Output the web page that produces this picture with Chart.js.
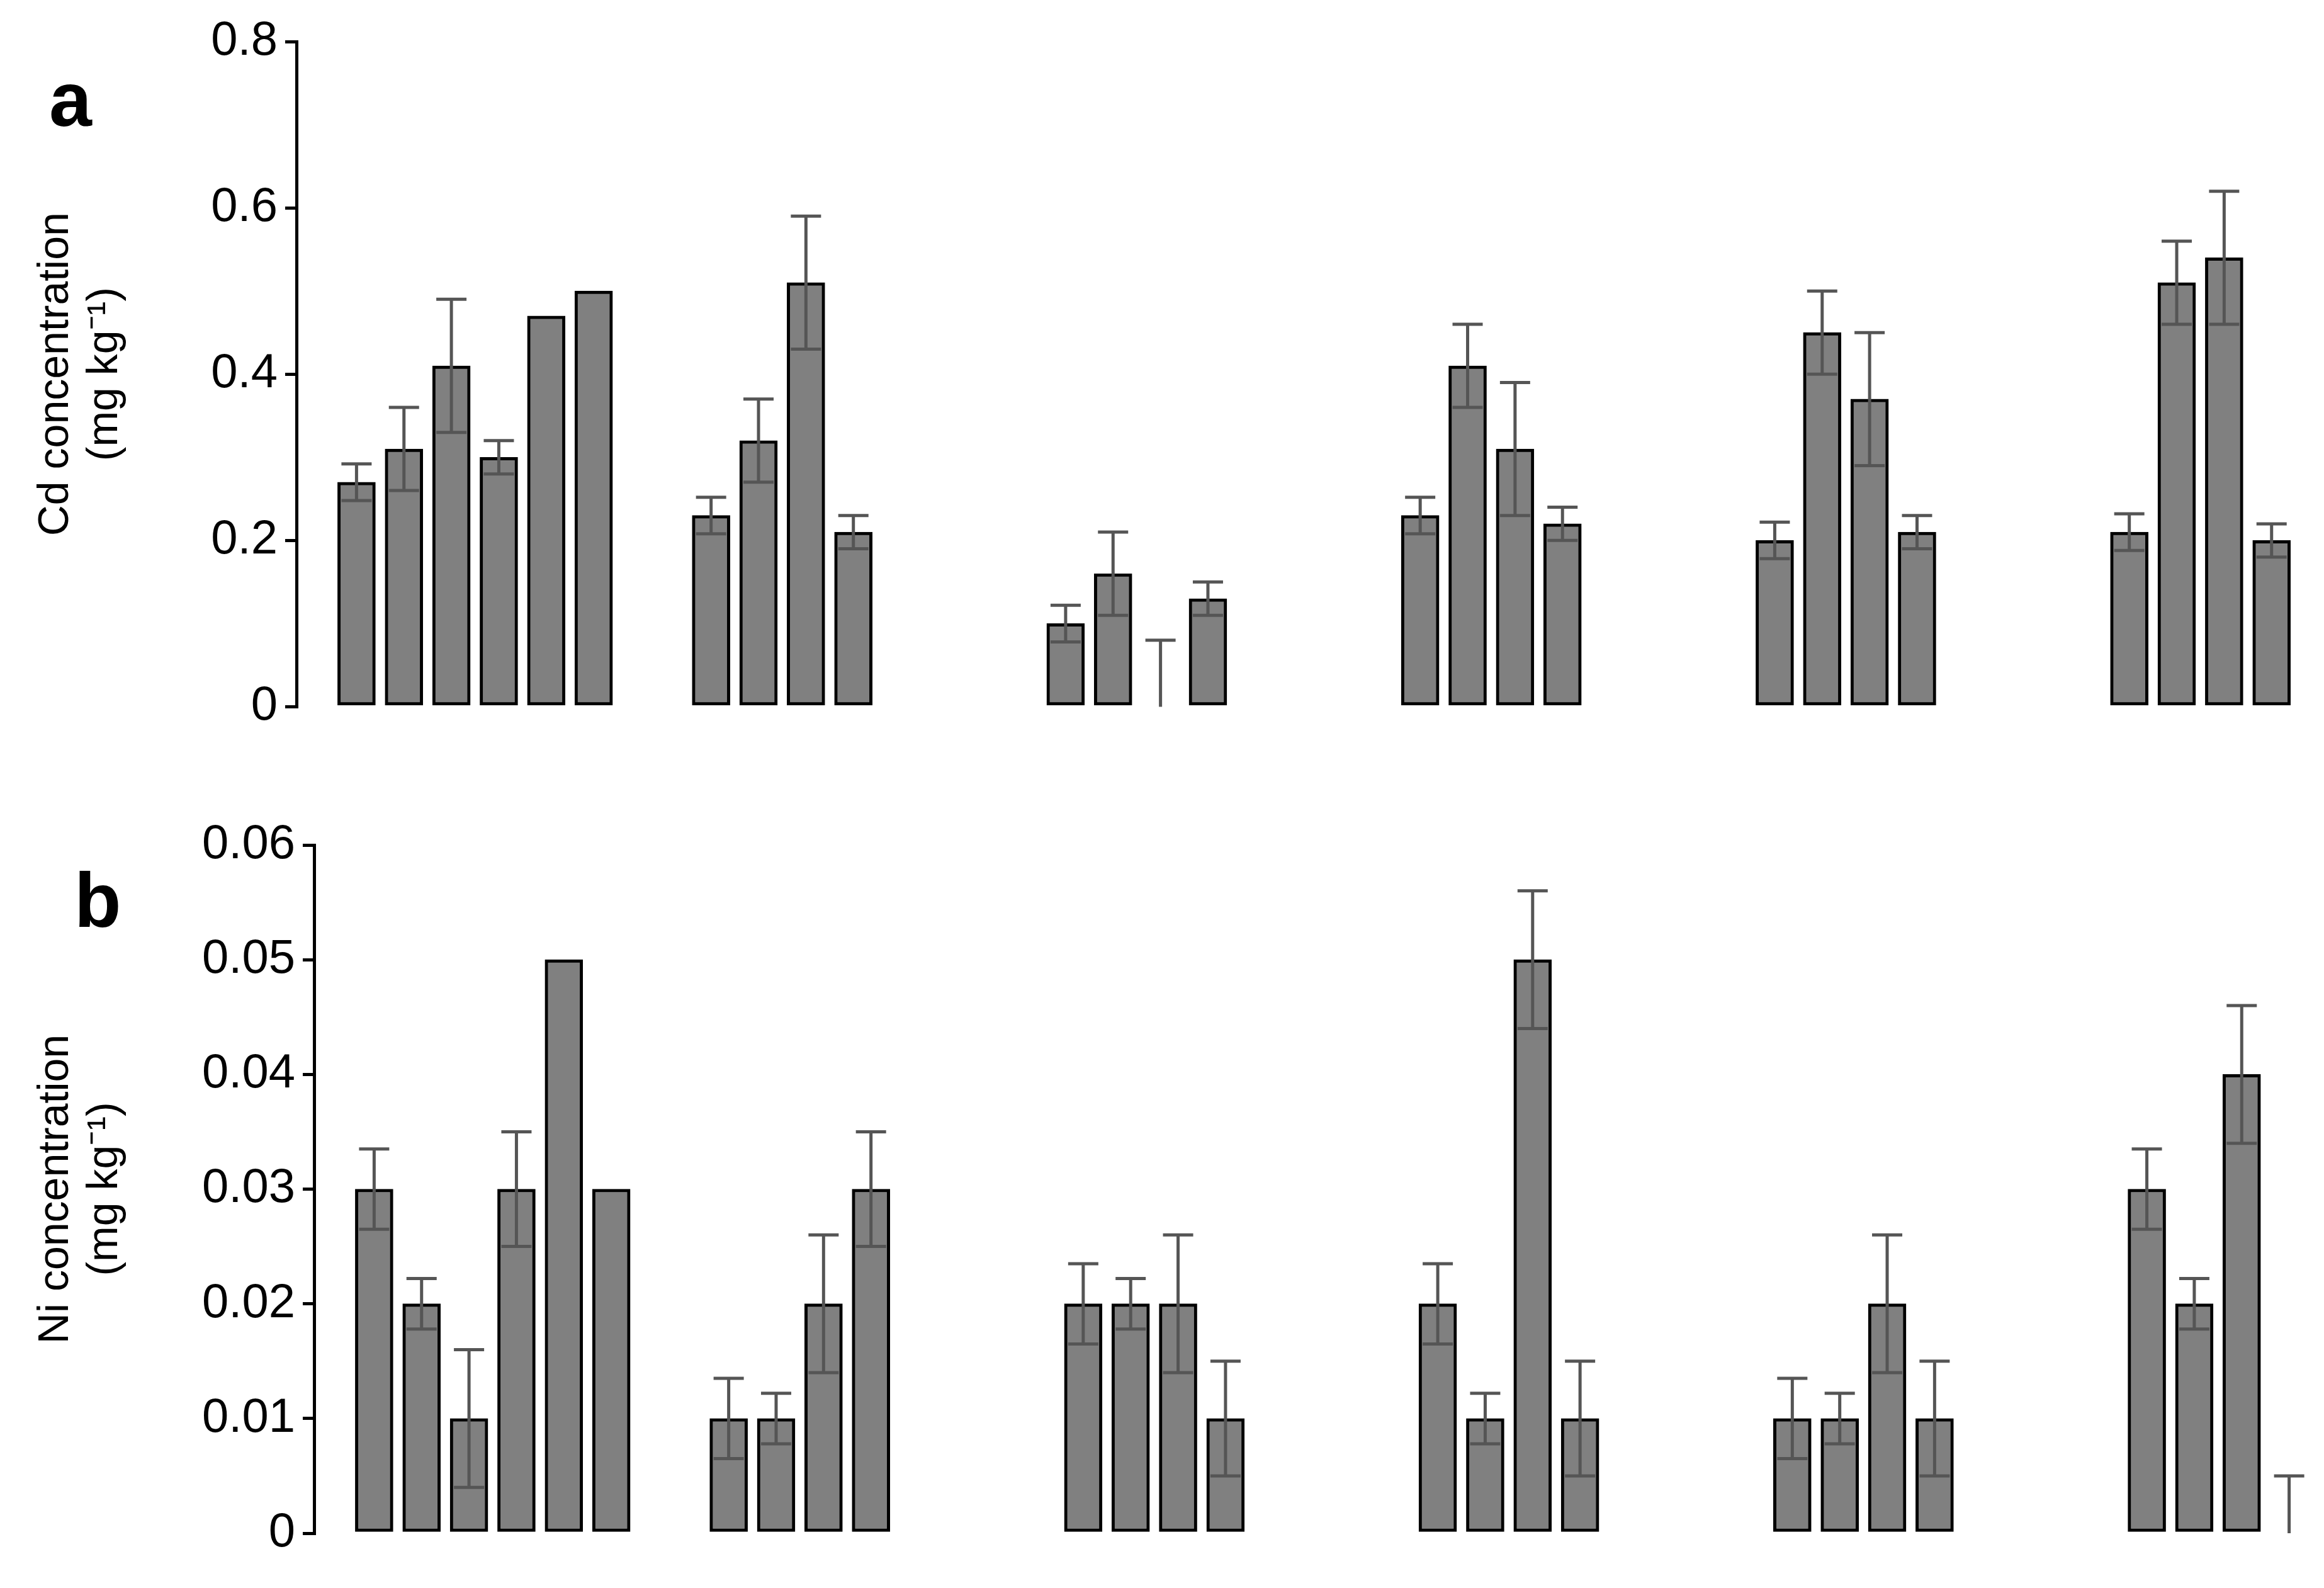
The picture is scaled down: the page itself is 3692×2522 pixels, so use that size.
<!DOCTYPE html>
<html>
<head>
<meta charset="utf-8">
<script src="https://cdn.jsdelivr.net/npm/chart.js@4.4.1/dist/chart.umd.min.js"></script>
<style>
  body { margin: 0; background: #fff; width: 3692px; height: 2522px; position: relative; overflow: hidden; font-family: Arial, "Liberation Sans", sans-serif; }
  .panel { position: absolute; left: 0; width: 3692px; }
  .letter { position: absolute; font-weight: bold; font-size: 122px; color: #000; }
</style>
</head>
<body>
<div class="panel" style="top:0;height:1180px"><canvas id="chartCd"></canvas></div>
<div class="panel" style="top:1250px;height:1272px"><canvas id="chartNi"></canvas></div>
<div class="letter" style="left:78px;top:88px">a</div>
<div class="letter" style="left:118px;top:1360px">b</div>
<script>
// groups of bars; null = no bar drawn
var cdValues = [
  [0.27, 0.31, 0.41, 0.30, 0.47, 0.50],
  [0.23, 0.32, 0.51, 0.21],
  [0.10, 0.16, null, 0.13],
  [0.23, 0.41, 0.31, 0.22],
  [0.20, 0.45, 0.37, 0.21],
  [0.21, 0.51, 0.54, 0.20]
];
var cdErrors = [
  [0.022, 0.05, 0.08, 0.02, null, null],
  [0.022, 0.05, 0.08, 0.02],
  [0.022, 0.05, 0.08, 0.02],
  [0.022, 0.05, 0.08, 0.02],
  [0.022, 0.05, 0.08, 0.02],
  [0.022, 0.05, 0.08, 0.02]
];
var niValues = [
  [0.03, 0.02, 0.01, 0.03, 0.05, 0.03],
  [0.01, 0.01, 0.02, 0.03],
  [0.02, 0.02, 0.02, 0.01],
  [0.02, 0.01, 0.05, 0.01],
  [0.01, 0.01, 0.02, 0.01],
  [0.03, 0.02, 0.04, null]
];
var niErrors = [
  [0.0035, 0.0022, 0.006, 0.005, null, null],
  [0.0035, 0.0022, 0.006, 0.005],
  [0.0035, 0.0022, 0.006, 0.005],
  [0.0035, 0.0022, 0.006, 0.005],
  [0.0035, 0.0022, 0.006, 0.005],
  [0.0035, 0.0022, 0.006, 0.005]
];
var cdTicks = [0, 0.2, 0.4, 0.6, 0.8];
var niTicks = [0, 0.01, 0.02, 0.03, 0.04, 0.05, 0.06];

var GROUP_PITCH = 7.475;

function toPoints(groups, errs) {
  var pts = [];
  groups.forEach(function (g, gi) {
    g.forEach(function (v, i) {
      pts.push({ x: gi * GROUP_PITCH + i, y: v, err: errs[gi][i] });
    });
  });
  return pts;
}

var errorBars = {
  id: 'errorBars',
  afterDatasetsDraw: function (chart) {
    var ctx = chart.ctx, xs = chart.scales.x, ys = chart.scales.y;
    ctx.save();
    ctx.strokeStyle = '#555';
    ctx.lineWidth = 5;
    chart.data.datasets[0].data.forEach(function (p) {
      if (p.err == null) return;
      var v = p.y == null ? 0 : p.y;
      var x = xs.getPixelForValue(p.x);
      var top = ys.getPixelForValue(v + p.err);
      var lo = Math.max(0, v - p.err);
      var bot = ys.getPixelForValue(lo);
      ctx.beginPath();
      ctx.moveTo(x, top); ctx.lineTo(x, bot);
      ctx.moveTo(x - 24, top); ctx.lineTo(x + 24, top);
      if (lo > 0) { ctx.moveTo(x - 24, bot); ctx.lineTo(x + 24, bot); }
      ctx.stroke();
    });
    ctx.restore();
  }
};

function makeChart(id, points, ticks, max, title, padLeft, axisWidth, xMax, pad) {
  pad.left = padLeft;
  return new Chart(document.getElementById(id), {
    type: 'bar',
    data: { datasets: [{
      data: points,
      backgroundColor: '#808080',
      borderColor: '#000',
      borderWidth: 5,
      borderSkipped: false,
      barThickness: 60
    }] },
    options: {
      responsive: true,
      maintainAspectRatio: false,
      animation: false,
      layout: { padding: pad },
      plugins: { legend: { display: false }, tooltip: { enabled: false } },
      scales: {
        x: { type: 'linear', display: false, offset: false, min: -1.266, max: xMax },
        y: {
          min: 0, max: max,
          afterFit: function (s) { s.width = axisWidth; },
          afterBuildTicks: function (s) { s.ticks = ticks.map(function (t) { return { value: t }; }); },
          ticks: { color: '#000', font: { size: 76, family: 'Arial, "Liberation Sans"' }, padding: 12,
                   callback: function (v) { return String(+v.toFixed(2)); } },
          grid: { drawOnChartArea: false, drawTicks: true, tickLength: 18, color: '#000', lineWidth: 5 },
          border: { color: '#000', width: 5 },
          title: { display: true, text: title, color: '#000', padding: 0,
                   font: { size: 68, family: 'Arial, "Liberation Sans"', lineHeight: 1.15 } }
        }
      }
    },
    plugins: [errorBars]
  });
}

makeChart('chartCd', toPoints(cdValues, cdErrors), cdTicks, 0.8,
  ['Cd concentration', '(mg kg\u207B\u00B9)'], 50, 421, 41.48, { top: 66, bottom: 47, right: 0 });
makeChart('chartNi', toPoints(niValues, niErrors), niTicks, 0.06,
  ['Ni concentration', '(mg kg\u207B\u00B9)'], 50, 449, 41.11, { top: 92, bottom: 87, right: 0 });
</script>
</body>
</html>
